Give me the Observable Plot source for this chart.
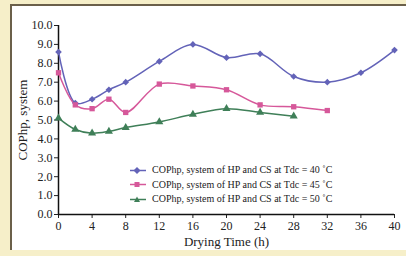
<!DOCTYPE html>
<html><head><meta charset="utf-8">
<script src="https://cdn.jsdelivr.net/npm/d3@7"></script>
<script src="https://cdn.jsdelivr.net/npm/@observablehq/plot@0.6"></script>
<style>
html,body{margin:0;padding:0;background:#f6efc9;width:406px;height:256px;overflow:hidden;}
#wrap{position:absolute;left:10px;top:4px;width:396px;height:246px;background:#fff;border-top:2px solid #6b604a;border-left:2px solid #6b604a;box-sizing:border-box;}
#chart{position:absolute;left:-2px;top:-2px;}
#legend{position:absolute;left:118px;top:157px;font-family:"Liberation Serif","Times New Roman",serif;font-size:10px;color:#222;line-height:14.5px;}
#legend div{display:flex;align-items:center;white-space:nowrap;}
#legend svg{margin-right:6px;}
</style></head>
<body>
<div id="wrap"><div id="chart"></div><div id="legend"></div></div>
<script>
const hours = [0, 2, 4, 6, 8, 12, 16, 20, 24, 28, 32, 36, 40];
const cop40 = [8.6, 5.9, 6.1, 6.6, 7.0, 8.1, 9.0, 8.3, 8.5, 7.3, 7.0, 7.5, 8.7];
const cop45 = [7.5, 5.8, 5.6, 6.1, 5.4, 6.9, 6.8, 6.6, 5.8, 5.7, 5.5];
const cop50 = [5.1, 4.5, 4.3, 4.4, 4.6, 4.9, 5.3, 5.6, 5.4, 5.2];
const seriesNames = [
  "COPhp, system of HP and CS at Tdc  = 40 \u02daC",
  "COPhp, system of HP and CS at Tdc  = 45 \u02daC",
  "COPhp, system of HP and CS at Tdc  = 50 \u02daC"
];
const colors = ["#6363b8", "#d6589a", "#3f7f58"];
const symbols = ["diamond2", "square", "triangle"];
const xTicks = [0, 4, 8, 12, 16, 20, 24, 28, 32, 36, 40];
const yTicks = [0, 1, 2, 3, 4, 5, 6, 7, 8, 9, 10];
const yTitle = "COPhp, system";
const xTitle = "Drying Time (h)";

const series = [cop40, cop45, cop50];
const rows = series.flatMap((vals, s) => vals.map((v, i) => ({h: hours[i], v, s: seriesNames[s]})));

const plot = Plot.plot({
  width: 396, height: 246,
  marginLeft: 48, marginTop: 21, marginRight: 12, marginBottom: 36,
  style: {fontFamily: '"Liberation Serif","Times New Roman",serif', fontSize: "12px", background: "transparent", color: "#222"},
  x: {domain: [0, 40]},
  y: {domain: [0, 10]},
  color: {domain: seriesNames, range: colors},
  symbol: {domain: seriesNames, range: symbols},
  marks: [
    Plot.axisX({ticks: xTicks, tickSize: 4, tickPadding: 3, fontSize: 12, label: xTitle, labelAnchor: "center", labelArrow: "none", labelOffset: 31}),
    Plot.axisY({ticks: yTicks, tickSize: 4, tickPadding: 2, fontSize: 12, tickFormat: d => d.toFixed(1), label: null}),
    Plot.text([yTitle], {frameAnchor: "left", textAnchor: "middle", rotate: -90, dx: -36, fontSize: 13, fill: "#222"}),
    Plot.ruleY([0], {stroke: "#111", strokeWidth: 1.5}),
    Plot.ruleX([0], {stroke: "#111", strokeWidth: 1.5}),
    Plot.line(rows, {x: "h", y: "v", z: "s", stroke: "s", strokeWidth: 1.5, curve: "catmull-rom"}),
    Plot.dot(rows, {x: "h", y: "v", symbol: "s", fill: "s", r: 3})
  ]
});
plot.querySelectorAll('[aria-label="x-axis label"] text').forEach(t => t.style.fontSize = "13px");
document.getElementById("chart").appendChild(plot);

const leg = document.getElementById("legend");
const shapes = {
  diamond2: '<path d="M7,2 L10.5,5.5 L7,9 L3.5,5.5Z"/>',
  square: '<rect x="4.5" y="3" width="5" height="5"/>',
  triangle: '<path d="M7,2.5 L10,8 L4,8Z"/>'
};
seriesNames.forEach((name, i) => {
  const d = document.createElement("div");
  d.innerHTML = `<svg width="16" height="11" style="fill:${colors[i]}"><line x1="0" x2="16" y1="5.5" y2="5.5" stroke="${colors[i]}" stroke-width="1.5"/>${shapes[symbols[i]]}</svg><span>${name}</span>`;
  leg.appendChild(d);
});
</script>
</body></html>
